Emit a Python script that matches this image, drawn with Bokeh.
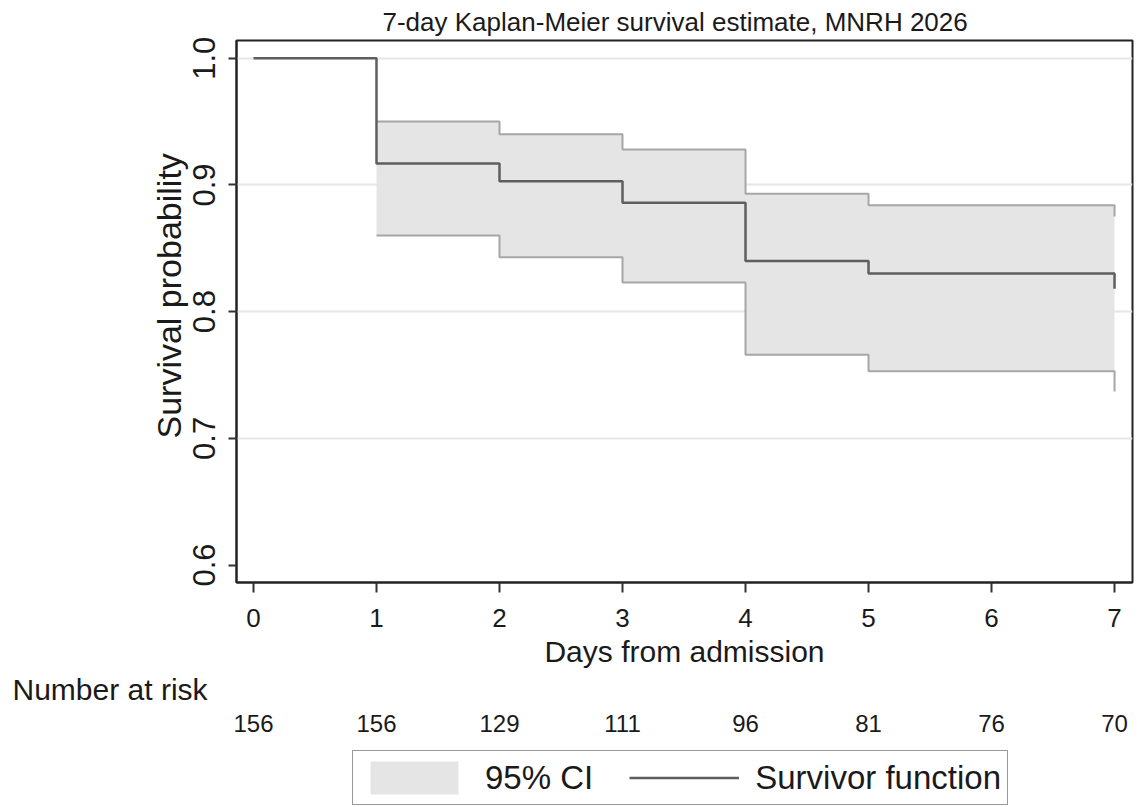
from bokeh.plotting import figure
from bokeh.models import (Range1d, FixedTicker, Legend, LegendItem, Title,
                          LinearAxis)
from bokeh.layouts import column
from bokeh.embed import file_html
from bokeh.resources import INLINE

# ---- data ----
days = [0, 1, 2, 3, 4, 5, 6, 7]
surv = [1.000, 0.917, 0.903, 0.886, 0.840, 0.830, 0.830, 0.818]
ci_days = [1, 2, 3, 4, 5, 6, 7]
ci_upper = [0.950, 0.940, 0.928, 0.893, 0.884, 0.884, 0.875]
ci_lower = [0.860, 0.843, 0.823, 0.766, 0.753, 0.753, 0.737]
at_risk = [156, 156, 129, 111, 96, 81, 76, 70]
y_ticks = [0.6, 0.7, 0.8, 0.9, 1.0]
y_tick_labels = ["0.6", "0.7", "0.8", "0.9", "1.0"]
grid_ticks = [0.7, 0.8, 0.9, 1.0]
title_text = "7-day Kaplan-Meier survival estimate, MNRH 2026"
x_label = "Days from admission"
y_label = "Survival probability"
risk_label = "Number at risk"
legend_labels = ["95% CI", "Survivor function"]

FONT = "Liberation Sans"
TXT = "#1a1a1a"
W = 1139
BL, BR = 236, 7          # frame borders shared by both rows
FILL = "#e5e5e5"
CI_LINE = "#a6a6a6"
S_LINE = "#5e5e5e"

p = figure(width=W, height=745, x_range=Range1d(-0.138, 7.146),
           y_range=Range1d(0.5862, 1.0140), output_backend="svg",
           toolbar_location=None, min_border_left=BL, min_border_right=BR,
           min_border_top=40, min_border_bottom=163)
p.title.text = title_text
p.title.align = "left"
p.title.offset = 146
p.title.text_font = FONT
p.title.text_font_size = "26px"
p.title.text_font_style = "normal"
p.title.text_color = TXT
p.title.standoff = 8
p.outline_line_color = "#222222"
p.outline_line_width = 2
p.background_fill_color = "white"
p.border_fill_color = "white"

p.varea_step(x=ci_days, y1=ci_lower, y2=ci_upper, step_mode="after",
             fill_color=FILL)
p.step(x=ci_days, y=ci_upper, mode="after", line_color=CI_LINE, line_width=2)
p.step(x=ci_days, y=ci_lower, mode="after", line_color=CI_LINE, line_width=2)
p.step(x=days, y=surv, mode="after", line_color=S_LINE, line_width=2.5)

xa = p.xaxis[0]
xa.ticker = FixedTicker(ticks=days)
xa.axis_line_color = "#222222"
xa.axis_line_width = 2
xa.major_tick_out = 10
xa.major_tick_in = 0
xa.major_tick_line_color = "#333333"
xa.major_tick_line_width = 2
xa.minor_tick_line_color = None
xa.major_label_standoff = 16
xa.major_label_text_font = FONT
xa.major_label_text_font_size = "26px"
xa.major_label_text_color = TXT
xa.axis_label = x_label
xa.axis_label_text_font = FONT
xa.axis_label_text_font_size = "30px"
xa.axis_label_text_font_style = "normal"
xa.axis_label_text_color = TXT
xa.axis_label_standoff = 5

ya = p.yaxis[0]
ya.ticker = FixedTicker(ticks=y_ticks)
ya.major_label_overrides = {t: l for t, l in zip(y_ticks, y_tick_labels)}
ya.major_label_orientation = "vertical"
ya.axis_line_color = "#222222"
ya.axis_line_width = 2
ya.major_tick_out = 8
ya.major_tick_in = 0
ya.major_tick_line_color = "#333333"
ya.major_tick_line_width = 2
ya.minor_tick_line_color = None
ya.major_label_standoff = 13
ya.major_label_text_font = FONT
ya.major_label_text_font_size = "31px"
ya.major_label_text_color = TXT

# y-axis title (as a left-side title so it can sit slightly above centre)
y_title = Title(text=y_label, align="left", offset=144, text_font=FONT,
                text_font_size="34px", text_font_style="normal",
                text_color=TXT, standoff=5)
p.add_layout(y_title, "left")

p.xgrid.visible = False
p.ygrid.ticker = FixedTicker(ticks=grid_ticks)
p.ygrid.grid_line_color = "#e6e6e6"
p.ygrid.grid_line_width = 2

# "Number at risk" heading
risk_title = Title(text=risk_label, align="left", offset=-224,
                   text_font=FONT, text_font_size="30px",
                   text_font_style="normal", text_color=TXT, standoff=0)
p.add_layout(risk_title, "below")

# number-at-risk row as an extra axis sharing the x scale
risk_axis = LinearAxis(ticker=FixedTicker(ticks=days),
                       major_label_overrides={d: str(n) for d, n in zip(days, at_risk)})
risk_axis.axis_line_color = None
risk_axis.major_tick_line_color = None
risk_axis.minor_tick_line_color = None
risk_axis.major_label_standoff = 3
risk_axis.major_label_text_font = FONT
risk_axis.major_label_text_font_size = "24px"
risk_axis.major_label_text_color = TXT
p.add_layout(risk_axis, "below")

# ---- legend row (proxy renderers lie outside this row's visible range) ----
lg = figure(width=W, height=62, x_range=Range1d(-0.138, 7.146),
            y_range=Range1d(10, 11), output_backend="svg",
            toolbar_location=None, min_border_left=BL, min_border_right=BR,
            min_border_top=0, min_border_bottom=0)
lg.axis.visible = False
lg.grid.visible = False
lg.outline_line_color = None
lg.border_fill_color = "white"
band_proxy = lg.varea(x=ci_days, y1=ci_lower, y2=ci_upper, fill_color=FILL)
line_proxy = lg.line(x=days, y=surv, line_color=S_LINE, line_width=2.5)
legend = Legend(items=[LegendItem(label=legend_labels[0], renderers=[band_proxy]),
                       LegendItem(label=legend_labels[1], renderers=[line_proxy])],
                orientation="horizontal", location=(116, 2),
                border_line_color="#333333", border_line_width=1.5,
                background_fill_color="white",
                label_text_font=FONT, label_text_font_size="33px",
                label_text_color=TXT, glyph_width=110, glyph_height=41,
                label_height=41, label_standoff=16, spacing=36, padding=6,
                margin=0)
lg.add_layout(legend, "center")

layout = column(p, lg, spacing=0)
open("out.html", "w").write(file_html(layout, INLINE))
